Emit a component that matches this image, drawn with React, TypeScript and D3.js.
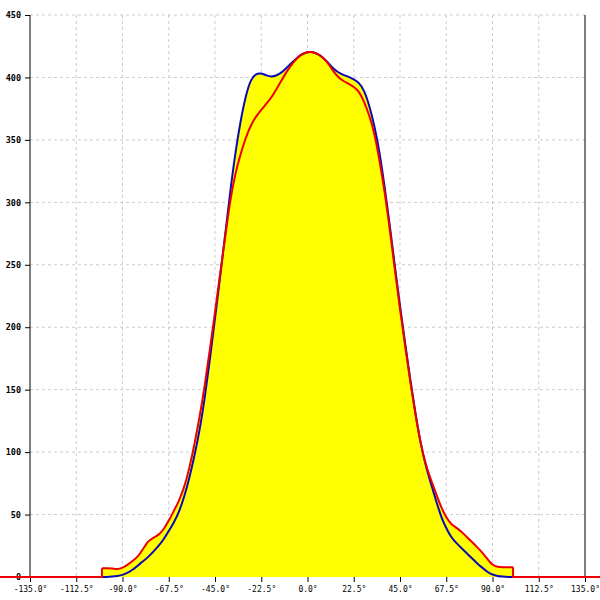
import { useEffect, useRef } from 'react';
import * as d3 from 'd3';

const W = 600;
const H = 600;

// angle grid (degrees) the two curves are sampled on
const angles = d3.range(-100, 100.01, 2.5);

const blueValues = [
  0, 0, 0.3, 0.8, 1.5, 3.3, 5.8, 9.3, 12.5, 16, 20.3, 24.8, 30, 36.7, 43.7, 52, 64, 79,
  97, 117, 143, 174, 207, 240, 275, 310, 341, 366, 386, 399, 403, 403.5, 401.5, 400.5,
  401.5, 404, 408, 412, 416, 419, 420.5, 420.5, 419, 416, 412, 407, 404, 402, 400.5, 398.5,
  396, 390, 378, 362, 341, 313, 282, 249, 217, 187, 158, 131, 107, 89, 75, 61.5, 48,
  39, 31.5, 27, 23, 19, 15, 11, 7.5, 4, 1.8, 0.8, 0.3, 0, 0,
];

const redValues = [
  7, 7, 7, 6, 7.3, 9.8, 13, 16.2, 22.4, 29, 31.5, 33.5, 38, 45, 53, 61, 71.5, 87,
  106, 128, 153, 182, 212, 243, 273, 303, 324, 339, 352, 362, 369, 374, 379, 384,
  391, 398, 405, 411, 415.5, 419, 420.5, 420.5, 419, 416, 411.5, 405, 400, 397, 395, 392.5,
  389, 381, 370, 356, 334, 309, 279, 246, 214, 185, 156, 130, 107, 90, 78, 67, 56,
  47.5, 42, 39.5, 36.3, 32, 28, 24, 19.7, 14.5, 9.3, 8, 7.8, 7.8, 7.8,
];

const xTicks = [-135, -112.5, -90, -67.5, -45, -22.5, 0, 22.5, 45, 67.5, 90, 112.5, 135];
const yTicks = [0, 50, 100, 150, 200, 250, 300, 350, 400, 450];

type Pt = [number, number];

export default function App() {
  const svgRef = useRef<SVGSVGElement>(null);

  useEffect(() => {
    if (!svgRef.current) return;
    const svg = d3.select(svgRef.current);
    svg.selectAll('*').remove();

    const x = d3.scaleLinear().domain([-135, 135]).range([30, 585]);
    const y = d3.scaleLinear().domain([0, 450]).range([577, 15]);
    const font = '"DejaVu Sans Mono", monospace';

    const blue: Pt[] = angles.map((a, i) => [a, blueValues[i]]);
    const red: Pt[] = angles.map((a, i) => [a, redValues[i]]);

    // grid
    svg.append('g')
      .selectAll('line')
      .data(xTicks.slice(1, -1))
      .join('line')
      .attr('x1', d => x(d)).attr('x2', d => x(d))
      .attr('y1', y(450)).attr('y2', y(0))
      .attr('stroke', '#cccccc').attr('stroke-dasharray', '3,3');
    svg.append('g')
      .selectAll('line')
      .data(yTicks.slice(1))
      .join('line')
      .attr('x1', x(-135)).attr('x2', x(135))
      .attr('y1', d => y(d)).attr('y2', d => y(d))
      .attr('stroke', '#cccccc').attr('stroke-dasharray', '3,3');

    // yellow fill under both curves
    const area = d3.area<Pt>()
      .x(d => x(d[0]))
      .y0(y(0))
      .y1(d => y(d[1]))
      .curve(d3.curveBasis);
    svg.append('path').attr('d', area(red)!).attr('fill', '#ffff00');
    svg.append('path').attr('d', area(blue)!).attr('fill', '#ffff00');

    // axes
    const yAxis = svg.append('g').attr('transform', `translate(${x(-135)},0)`)
      .call(d3.axisLeft(y).tickValues(yTicks).tickSize(5).tickPadding(4).tickFormat(d => String(d)));
    yAxis.select('.domain').attr('stroke', '#000').attr('d', `M0,${y(450)}V${y(0)}`);
    yAxis.selectAll('text').attr('font-family', font).attr('font-size', 8.5).attr('font-weight', 'bold').attr('fill', '#000');

    const xAxis = svg.append('g').attr('transform', `translate(0,${y(0)})`)
      .call(d3.axisBottom(x).tickValues(xTicks).tickSize(5).tickPadding(4)
        .tickFormat(d => (d as number).toFixed(1) + '°'));
    xAxis.select('.domain').remove();
    xAxis.selectAll('text').attr('font-family', font).attr('font-size', 8).attr('fill', '#000');

    svg.append('line')
      .attr('x1', x(135)).attr('x2', x(135))
      .attr('y1', y(450)).attr('y2', y(0))
      .attr('stroke', '#000');

    // curves
    const line = d3.line<Pt>()
      .x(d => x(d[0]))
      .y(d => y(d[1]))
      .curve(d3.curveBasis);

    svg.append('path').attr('d', line(blue)!)
      .attr('fill', 'none').attr('stroke', '#0a0ab4').attr('stroke-width', 2);

    svg.append('path').attr('d', line(red)!)
      .attr('fill', 'none').attr('stroke', '#ee0000').attr('stroke-width', 2);

    // red baseline running out to both edges, with the step up at the ends
    const first = red[0];
    const last = red[red.length - 1];
    const edgeLine = d3.line<Pt>().x(d => x(d[0])).y(d => y(d[1]));
    svg.append('path')
      .attr('d', edgeLine([[-150, 0], [first[0], 0], first])!)
      .attr('fill', 'none').attr('stroke', '#ee0000').attr('stroke-width', 2);
    svg.append('path')
      .attr('d', edgeLine([last, [last[0], 0], [150, 0]])!)
      .attr('fill', 'none').attr('stroke', '#ee0000').attr('stroke-width', 2);
  }, []);

  return (
    <svg
      ref={svgRef}
      width={W}
      height={H}
      style={{ position: 'absolute', left: 0, top: 0, background: '#fff' }}
    />
  );
}
